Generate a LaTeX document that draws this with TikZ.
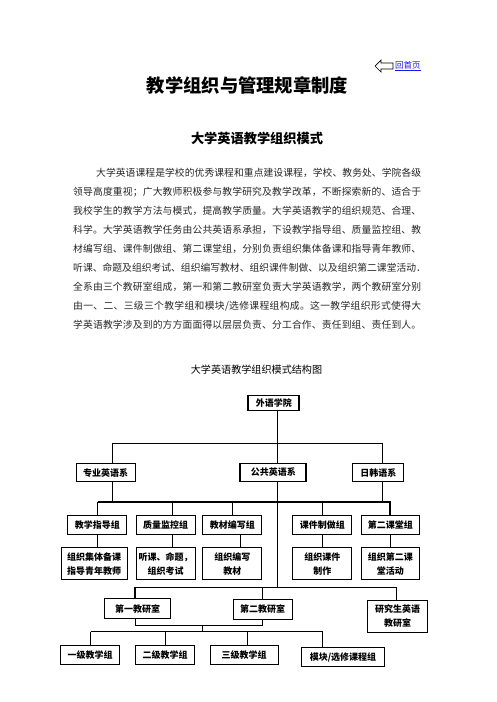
\documentclass[tikz,border=0pt]{standalone}
\usepackage{fontspec}
\setmainfont{Noto Sans CJK SC}
\makeatletter
\count@="3000
\loop\ifnum\count@<"A000\relax \XeTeXcharclass\count@=1\relax \advance\count@ by 1\relax\repeat
\count@="FF00
\loop\ifnum\count@<"FFF0\relax \XeTeXcharclass\count@=1\relax \advance\count@ by 1\relax\repeat
\makeatother
\XeTeXinterchartoks 1 1 = {\hskip 0pt plus 3pt\relax}
\XeTeXinterchartoks 0 1 = {\hskip 0pt plus 3pt\relax}
\XeTeXinterchartoks 1 0 = {\hskip 0pt plus 3pt\relax}
\XeTeXinterchartokenstate=1
\definecolor{linkblue}{RGB}{25,25,235}
\tikzset{
  bx/.style={draw, line width=0.8pt, inner sep=0pt, align=center,
    font=\bfseries\fontsize{9}{14}\selectfont},
  bxthick/.style={bx, line width=1.8pt},
  ln/.style={line width=0.8pt},
  lnthick/.style={line width=1.8pt},
  para/.style={anchor=west, inner sep=0pt, text=black!85,
    font=\fontsize{9.8}{12}\selectfont},
}
\begin{document}
\begin{tikzpicture}[x=1pt,y=-1pt]
\useasboundingbox (0,0) rectangle (496,702);
% back link
\draw[line width=0.7pt] (375,66) -- (381,60) -- (381,63) -- (393,63) -- (393,69) -- (381,69) -- (381,72) -- cycle;
\node[anchor=west, inner sep=0pt, text=linkblue, font=\fontsize{8.5}{10}\selectfont] (home) at (395,66) {\underline{回首页}};
% titles
\node[inner sep=0pt, font=\bfseries\fontsize{18.3}{20}\selectfont] (title) at (247.5,85) {教学组织与管理规章制度};
\node[inner sep=0pt, font=\bfseries\fontsize{13.2}{15}\selectfont] (sub) at (257,138) {大学英语教学组织模式};
% paragraph
\node[para] (l1) at (96,173) {\makebox[325pt][s]{大学英语课程是学校的优秀课程和重点建设课程，学校、教务处、学院各级}};
\node[para] (l2) at (73,192) {\makebox[348pt][s]{领导高度重视；广大教师积极参与教学研究及教学改革，不断探索新的、适合于}};
\node[para] (l3) at (73,211) {\makebox[348pt][s]{我校学生的教学方法与模式，提高教学质量。大学英语教学的组织规范、合理、}};
\node[para] (l4) at (73,230) {\makebox[348pt][s]{科学。大学英语教学任务由公共英语系承担，下设教学指导组、质量监控组、教}};
\node[para] (l5) at (73,249) {\makebox[348pt][s]{材编写组、课件制做组、第二课堂组，分别负责组织集体备课和指导青年教师、}};
\node[para] (l6) at (73,268) {\makebox[348pt][s]{听课、命题及组织考试、组织编写教材、组织课件制做、以及组织第二课堂活动．}};
\node[para] (l7) at (73,287) {\makebox[348pt][s]{全系由三个教研室组成，第一和第二教研室负责大学英语教学，两个教研室分别}};
\node[para] (l8) at (73,306) {\makebox[348pt][s]{由一、二、三级三个教学组和模块/选修课程组构成。这一教学组织形式使得大}};
\node[para] (l9) at (73,325) {\makebox[348pt][s]{学英语教学涉及到的方方面面得以层层负责、分工合作、责任到组、责任到人。}};
% chart caption
\node[inner sep=0pt, font=\fontsize{10.1}{12}\selectfont] (cap) at (256.5,370) {大学英语教学组织模式结构图};
% row 0
\node[bxthick, minimum width=51pt, minimum height=15pt] (wy) at (273.8,403) {外语学院};
% row 1
\node[bx, minimum width=59pt, minimum height=18pt] (zy) at (105.7,472.8) {专业英语系};
\node[bxthick, minimum width=66pt, minimum height=18pt] (gg) at (273.3,472.5) {公共英语系};
\node[bx, minimum width=51pt, minimum height=18pt] (rh) at (378.3,472.8) {日韩语系};
% row 2
\node[bx, minimum width=59pt, minimum height=18.5pt] (jx) at (97.3,524.7) {教学指导组};
\node[bx, minimum width=59pt, minimum height=18.5pt] (zl) at (165.7,524.7) {质量监控组};
\node[bx, minimum width=59pt, minimum height=18.5pt] (jc) at (232.3,524.7) {教材编写组};
\node[bx, minimum width=59pt, minimum height=18.5pt] (kj) at (322.3,524.7) {课件制做组};
\node[bx, minimum width=58.5pt, minimum height=18.5pt] (dk) at (390.35,524.7) {第二课堂组};
% row 3
\node[bx, minimum width=65.8pt, minimum height=32pt] (a) at (94,563.7) {组织集体备课\\指导青年教师};
\node[bx, minimum width=59pt, minimum height=32pt] (b) at (165.7,563.7) {听课、命题，\\组织考试};
\node[bx, minimum width=59pt, minimum height=32pt] (c) at (232.3,563.7) {组织编写\\教材};
\node[bx, minimum width=59pt, minimum height=32pt] (d) at (322.3,563.7) {组织课件\\制作};
\node[bx, minimum width=58.5pt, minimum height=32pt] (e) at (390.35,563.7) {组织第二课\\堂活动};
% row 4
\node[bx, minimum width=66pt, minimum height=20pt] (dy) at (137.7,608.8) {第一教研室};
\node[bx, minimum width=59pt, minimum height=20pt] (de) at (262.5,609.3) {第二教研室};
\node[bx, minimum width=59.5pt, minimum height=32pt] (yj) at (397.5,616.3) {研究生英语\\教研室};
% row 5
\node[bx, minimum width=59pt, minimum height=19.3pt] (y1) at (90,655) {一级教学组};
\node[bx, minimum width=59pt, minimum height=19.3pt] (y2) at (165,655) {二级教学组};
\node[bx, minimum width=67.5pt, minimum height=19.3pt] (y3) at (244.2,655) {三级教学组};
\node[bx, minimum width=82.5pt, minimum height=19pt] (mk) at (343,657.3) {模块/选修课程组};
% connectors level 0-1
\coordinate (j0) at (277.7,443.3);
\coordinate (jL) at (112.3,443.3);
\coordinate (jR) at (382.3,443.3);
\draw[ln] (wy.south -| j0) -- (j0);
\draw[ln] (jL) -- (jR);
\draw[ln] (jL) -- (zy.north -| jL);
\draw[ln] (j0) -- (gg.north -| j0);
\draw[ln] (jR) -- (rh.north -| jR);
% bus
\coordinate (bL) at (97.7,501.7);
\coordinate (b2) at (172.3,501.7);
\coordinate (b3) at (232.3,501.7);
\coordinate (b4) at (322.7,501.7);
\coordinate (bR) at (390,501.7);
\coordinate (m0) at (277.7,587.3);
\draw[ln] (zy.south -| jL) -- (jL |- bL);
\draw[ln] (rh.south -| jR) -- (jR |- bR);
\draw[ln] (gg.south -| j0) -- (m0);
\draw[lnthick] (bL) -- (bR) -- (dk.north -| bR);
\draw[ln] (bL) -- (jx.north -| bL);
\draw[ln] (b2) -- (zl.north -| b2);
\draw[ln] (b3) -- (jc.north -| b3);
\draw[ln] (b4) -- (kj.north -| b4);
% row 2 to row 3
\coordinate (c3) at (240.7,540);
\draw[ln] (jx.south -| bL) -- (a.north -| bL);
\draw[ln] (zl.south -| b2) -- (b.north -| b2);
\draw[ln] (jc.south -| c3) -- (c.north -| c3);
\draw[ln] (kj.south -| b4) -- (d.north -| b4);
\draw[ln] (dk.south -| bR) -- (e.north -| bR);
% row 4
\coordinate (mL) at (135,587.3);
\coordinate (m2) at (262.3,587.3);
\coordinate (mR) at (396.7,587.3);
\draw[ln] (mL) -- (mR);
\draw[lnthick] (mL) -- (dy.north -| mL);
\draw[ln] (m2) -- (de.north -| m2);
\draw[ln] (mR) -- (yj.north -| mR);
% row 4 to row 5
\coordinate (nL) at (135,625);
\coordinate (nR) at (262.3,625);
\coordinate (nM) at (202.3,625);
\coordinate (pM) at (202.3,631.7);
\draw[ln] (dy.south -| nL) -- (nL) -- (nR) -- (de.south -| nR);
\draw[ln] (nM) -- (pM);
\coordinate (p1) at (90.7,631.7);
\coordinate (p2) at (165.7,631.7);
\coordinate (p3) at (247.7,631.7);
\coordinate (p4) at (322.7,631.7);
\draw[ln] (p1) -- (p4);
\draw[ln] (p1) -- (y1.north -| p1);
\draw[ln] (p2) -- (y2.north -| p2);
\draw[ln] (p3) -- (y3.north -| p3);
\draw[ln] (p4) -- (mk.north -| p4);
\end{tikzpicture}
\end{document}
